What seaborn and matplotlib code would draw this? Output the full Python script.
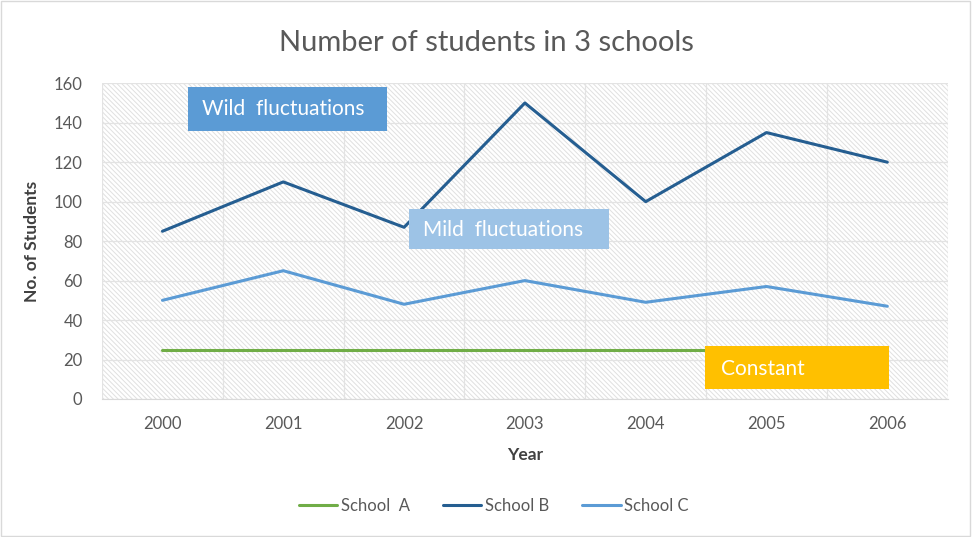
import matplotlib
matplotlib.use("Agg")
import matplotlib.pyplot as plt
from matplotlib.patches import Rectangle
from matplotlib.ticker import MultipleLocator
import seaborn as sns
import pandas as pd

years = [2000, 2001, 2002, 2003, 2004, 2005, 2006]
school_a = [25, 25, 25, 25, 25, 25, 25]
school_b = [85, 110, 87, 150, 100, 135, 120]
school_c = [50, 65, 48, 60, 49, 57, 47]
series_names = ["School  A", "School B", "School C"]
colors = ["#70AD47", "#255E91", "#5B9BD5"]

df = pd.DataFrame({
    "Year": years * 3,
    "Students": school_a + school_b + school_c,
    "School": [series_names[0]] * 7 + [series_names[1]] * 7 + [series_names[2]] * 7,
})

sns.set_style("white")
plt.rcParams["font.family"] = ["Lato", "DejaVu Sans"]
plt.rcParams["hatch.color"] = "#E0E0E0"
plt.rcParams["hatch.linewidth"] = 0.7

fig = plt.figure(figsize=(9.72, 5.37), dpi=100)
ax = fig.add_axes([0.105, 0.257, 0.870, 0.588])

# hatched plot area
ax.add_patch(Rectangle((0, 0), 1, 1, transform=ax.transAxes, facecolor="white",
                       edgecolor="#E0E0E0", hatch="\\" * 7, linewidth=0, zorder=0))

sns.lineplot(data=df, x="Year", y="Students", hue="School", palette=colors,
             linewidth=2.2, ax=ax, zorder=3)

ax.set_xlim(1999.5, 2006.5)
ax.set_ylim(0, 160)
ax.set_xticks(years)
ax.set_xticklabels([str(y) for y in years])
ax.xaxis.set_minor_locator(MultipleLocator(1, offset=0.5))
ax.yaxis.set_major_locator(MultipleLocator(20))
ax.grid(axis="y", which="major", color="#E3E3E3", linewidth=0.9, zorder=1)
ax.grid(axis="x", which="minor", color="#E3E3E3", linewidth=0.9, zorder=1)
ax.set_axisbelow(True)

for s in ["top", "right", "left"]:
    ax.spines[s].set_visible(False)
ax.spines["bottom"].set_color("#D9D9D9")
ax.tick_params(axis="both", which="both", length=0, labelsize=12, colors="#595959")
ax.tick_params(axis="x", pad=12)
ax.tick_params(axis="y", pad=14)

ax.set_xlabel("Year", fontsize=12.5, fontweight="bold", color="#404040", labelpad=11)
ax.set_ylabel("No. of Students", fontsize=12.5, fontweight="bold", color="#404040", labelpad=10)
fig.suptitle("Number of students in 3 schools", fontsize=21, color="#595959", y=0.945)

# annotation boxes
boxes = [
    ("Wild  fluctuations", 2000.21, 135.7, 1.65, 22.3, "#5B9BD5", 2000.33, 146.8),
    ("Mild  fluctuations", 2002.04, 75.9, 1.66, 20.3, "#9DC3E6", 2002.16, 85.6),
    ("Constant", 2004.49, 5.1, 1.52, 21.7, "#FFC000", 2004.62, 15.2),
]
for label, x0, y0, w, h, fc, tx, ty in boxes:
    ax.add_patch(Rectangle((x0, y0), w, h, facecolor=fc, edgecolor="none", zorder=5))
    ax.text(tx, ty, label, color="white", fontsize=15, ha="left", va="center", zorder=6)

handles, labels = ax.get_legend_handles_labels()
ax.legend(handles, labels, loc="center", bbox_to_anchor=(0.508, 0.058),
          bbox_transform=fig.transFigure, ncol=3, frameon=False, fontsize=12,
          labelcolor="#595959", handlelength=2.3, columnspacing=2.0, handletextpad=0.2)

fig.add_artist(Rectangle((0.001, 0.002), 0.997, 0.996, transform=fig.transFigure,
                         fill=False, edgecolor="#D9D9D9", linewidth=1))

plt.savefig("out.png", dpi=100)
